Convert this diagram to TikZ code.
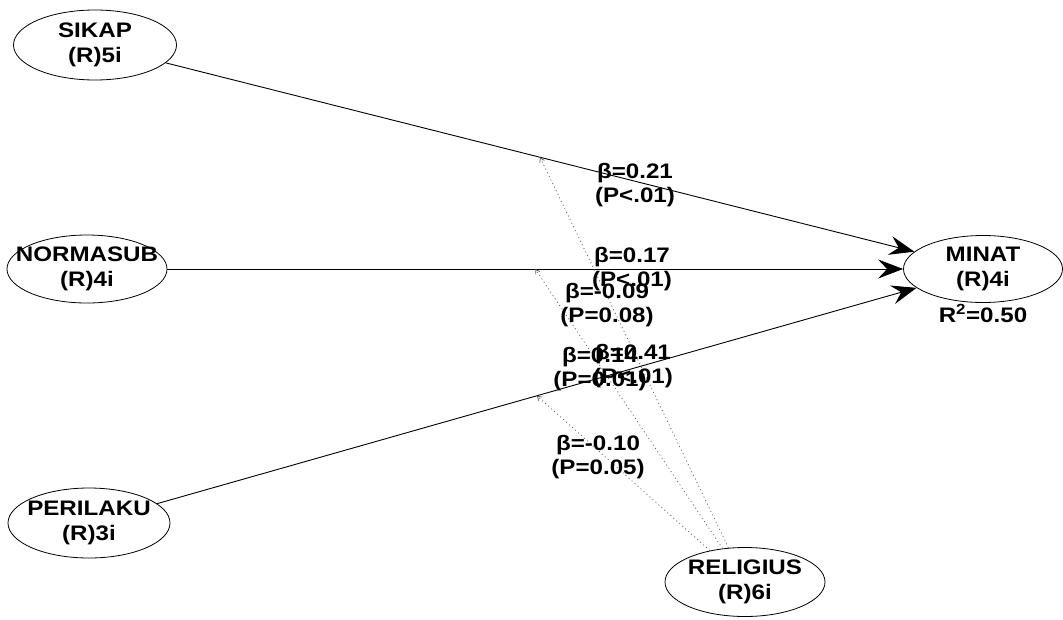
\documentclass[tikz,border=0pt]{standalone}
\usepackage{fontspec}
\setmainfont{Liberation Sans}[FakeStretch=1.15]
\usetikzlibrary{arrows.meta,shapes.geometric}
\newcommand{\cv}[1]{\makebox[0pt]{#1}}

\begin{document}
\begin{tikzpicture}[x=1pt,y=-1pt,
  font=\bfseries\fontsize{21}{25}\selectfont,
  lv/.style={draw,ellipse,line width=0.8pt,minimum width=160pt,minimum height=68pt,
             inner sep=0pt,align=center},
  path/.style={-{Stealth[length=25pt,width=19pt,inset=9pt]},line width=0.9pt},
  mod/.style={-{Straight Barb[length=4pt,width=5pt]},black!60,line width=0.8pt,
              dash pattern=on 1pt off 3pt},
  coef/.style={align=center,inner sep=0pt,font=\bfseries\fontsize{21}{24}\selectfont}]
\useasboundingbox (0,0) rectangle (1063,619);
\node[lv,minimum width=163pt,minimum height=70pt] (sikap) at (95,45) {\cv{SIKAP}\\\cv{(R)5i}};
\node[lv] (normasub) at (87,269) {\cv{NORMASUB}\\\cv{(R)4i}};
\node[lv,minimum width=162pt,minimum height=70pt] (perilaku) at (89,523) {\cv{PERILAKU}\\\cv{(R)3i}};
\node[lv,minimum width=159pt,minimum height=67pt] (minat) at (983,269) {\cv{MINAT}\\\cv{(R)4i}};
\node[lv,minimum height=69pt] (religius) at (745,582) {\cv{RELIGIUS}\\\cv{(R)6i}};
\node[anchor=base,inner sep=0pt] (r2) at (983,322) {R\textsuperscript{2}=0.50};
\draw[path] (sikap) -- coordinate[pos=0.5] (m1) (minat);
\draw[path] (normasub) -- coordinate[pos=0.5] (m2) (minat);
\draw[path] (perilaku) -- coordinate[pos=0.5] (m3) (minat);
\draw[mod] (religius) -- (m1);
\draw[mod] (religius) -- (m2);
\draw[mod] (religius) -- (m3);
\node[coef] (b1) at (635,185) {β=0.21\\(P<.01)};
\node[coef] (b2) at (632,269) {β=0.17\\(P<.01)};
\node[coef] (b3) at (607,305) {β=-0.09\\(P=0.08)};
\node[coef] (b4) at (633,366) {β=0.41\\(P<.01)};
\node[coef] (b5) at (600,369) {β=0.14\\(P=0.01)};
\node[coef] (b6) at (598,457) {β=-0.10\\(P=0.05)};
\end{tikzpicture}
\end{document}
